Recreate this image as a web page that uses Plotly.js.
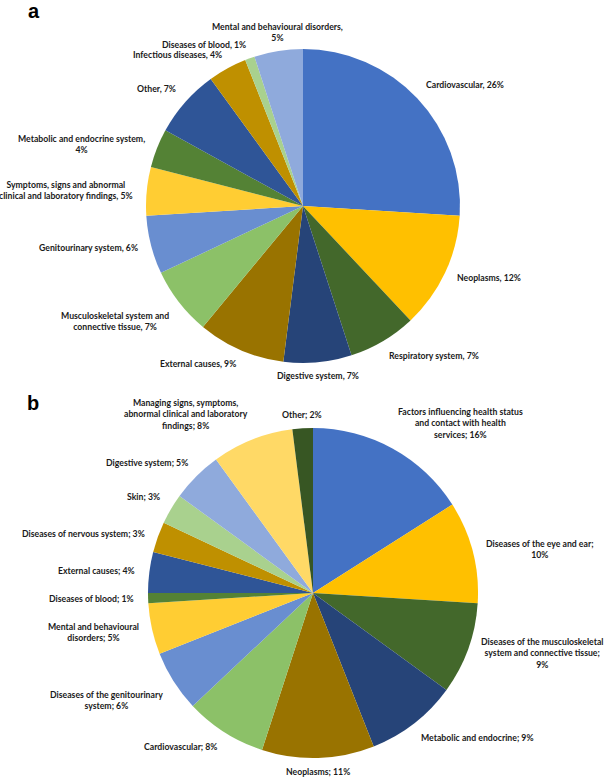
<!DOCTYPE html>
<html>
<head>
<meta charset="utf-8">
<script src="https://cdn.plot.ly/plotly-3.0.1.min.js"></script>
<style>html,body{margin:0;padding:0;background:#fff;}#chart{width:605px;height:778px;}</style>
</head>
<body>
<div id="chart"></div>
<script>
// ---- Panel a data (clockwise from 12 o'clock) ----
const catA = [
  "Cardiovascular", "Neoplasms", "Respiratory system", "Digestive system",
  "External causes", "Musculoskeletal system and<br>connective tissue", "Genitourinary system",
  "Symptoms, signs and abnormal<br>clinical and laboratory findings", "Metabolic and endocrine system",
  "Other", "Infectious diseases", "Diseases of blood", "Mental and behavioural disorders"
];
const valA = [26, 12, 7, 7, 9, 7, 6, 5, 4, 7, 4, 1, 5];
const wrapValA = [false, false, false, false, false, false, false, false, true, false, false, false, true];

// ---- Panel b data (clockwise from 12 o'clock) ----
const catB = [
  "Factors influencing health status<br>and contact with health<br>services",
  "Diseases of the eye and ear",
  "Diseases of the musculoskeletal<br>system and connective tissue",
  "Metabolic and endocrine", "Neoplasms", "Cardiovascular",
  "Diseases of the genitourinary<br>system", "Mental and behavioural<br>disorders",
  "Diseases of blood", "External causes", "Diseases of nervous system", "Skin",
  "Digestive system", "Managing signs, symptoms,<br>abnormal clinical and laboratory<br>findings", "Other"
];
const valB = [16, 10, 9, 9, 11, 8, 6, 5, 1, 4, 3, 3, 5, 8, 2];
const wrapValB = [false, true, true, false, false, false, false, false, false, false, false, false, false, false, false];

const palette = ["#4472C4", "#FFC000", "#43682B", "#264478", "#997300", "#8CC168", "#698ED0",
  "#FFCD33", "#548235", "#2F5597", "#BF9000", "#A9D18E", "#8FAADC", "#FFD966", "#375623"];

const W = 605, H = 778;
// pie geometry (pixels)
const pieA = {cx: 303, cy: 206, r: 157};
const pieB = {cx: 313, cy: 593, r: 165};

function domainOf(p) {
  return {
    x: [(p.cx - p.r) / W, (p.cx + p.r) / W],
    y: [1 - (p.cy + p.r) / H, 1 - (p.cy - p.r) / H]
  };
}

function pieTrace(names, vals, p) {
  return {
    type: "pie", values: vals, labels: names.map(s => s.replace(/<br>/g, " ")),
    sort: false, direction: "clockwise", rotation: 0,
    marker: {colors: palette.slice(0, vals.length), line: {width: 0}},
    textinfo: "none", hoverinfo: "none", showlegend: false,
    domain: domainOf(p)
  };
}

function labelAnns(names, vals, wraps, sep, p, gap) {
  const total = vals.reduce((a, b) => a + b, 0);
  let cum = 0;
  return vals.map((v, i) => {
    const mid = (cum + v / 2) / total * 2 * Math.PI;
    cum += v;
    const s = Math.sin(mid), c = Math.cos(mid);
    const R = p.r + gap - 6 * c * c;
    const px = p.cx + R * s, py = p.cy - R * c;
    const xa = s > 0.2 ? "left" : (s < -0.2 ? "right" : "center");
    const ya = c > 0.5 ? "bottom" : (c < -0.5 ? "top" : "middle");
    return {
      xref: "paper", yref: "paper", x: px / W, y: 1 - py / H,
      xanchor: xa, yanchor: ya, showarrow: false, align: "center",
      text: names[i] + sep + (wraps[i] ? "<br>" : " ") + v + "%",
      font: {family: "Lato, 'Liberation Sans', sans-serif", size: 8.7, color: "#1a1a1a", weight: 700}
    };
  });
}

const anns = [].concat(
  labelAnns(catA, valA, wrapValA, ",", pieA, 12),
  labelAnns(catB, valB, wrapValB, ";", pieB, 12),
  [
    {xref: "paper", yref: "paper", x: 34 / W, y: 1 - 11 / H, xanchor: "center", yanchor: "middle",
     showarrow: false, text: "<b>a</b>", font: {family: "'Liberation Sans', Arial, sans-serif", size: 20, color: "#000"}},
    {xref: "paper", yref: "paper", x: 33 / W, y: 1 - 403 / H, xanchor: "center", yanchor: "middle",
     showarrow: false, text: "<b>b</b>", font: {family: "'Liberation Sans', Arial, sans-serif", size: 20, color: "#000"}}
  ]
);

const layout = {
  width: W, height: H,
  margin: {l: 0, r: 0, t: 0, b: 0},
  paper_bgcolor: "#ffffff", plot_bgcolor: "#ffffff",
  showlegend: false,
  annotations: anns
};

Plotly.newPlot("chart", [pieTrace(catA, valA, pieA), pieTrace(catB, valB, pieB)], layout,
  {displayModeBar: false, staticPlot: true});
</script>
</body>
</html>
